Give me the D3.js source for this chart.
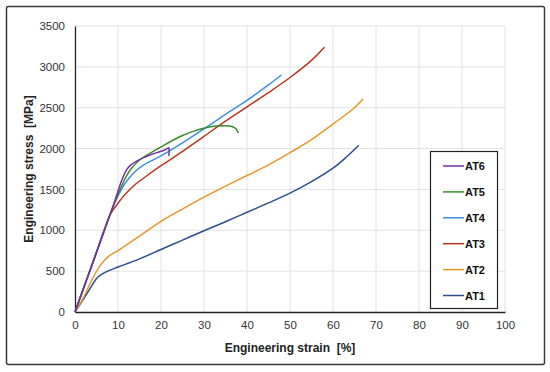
<!DOCTYPE html>
<html lang="en">
<head>
<meta charset="UTF-8" />
<title>index</title>
<script src="https://d3js.org/d3.v7.min.js"></script>
<style>
  body { margin: 0; background: #fff; }
  text { font-family: "Liberation Sans", Arial, sans-serif; }
</style>
</head>
<body>
<div id="my_dataviz"></div>
<script>
// tick labels
var xTicks = [0, 10, 20, 30, 40, 50, 60, 70, 80, 90, 100];
var yTicks = [0, 500, 1000, 1500, 2000, 2500, 3000, 3500];

// series names (legend order, top to bottom) and colours
var seriesNames = ["AT6", "AT5", "AT4", "AT3", "AT2", "AT1"];
var seriesColors = ["#7030a0", "#3a8a2a", "#3d8fe0", "#b8361e", "#e3962e", "#2c4f8c"];

// strain [%] / stress [MPa]
var at1Strain = [0, 2, 4, 5, 6, 7, 8, 10, 15, 20, 25, 30, 35, 40, 45, 50, 55, 60, 63, 66];
var at1Stress = [0, 160, 330, 410, 455, 485, 510, 550, 650, 765, 880, 995, 1105, 1220, 1335, 1455, 1595, 1760, 1890, 2040];

var at2Strain = [0, 2, 4, 6, 8, 10, 15, 20, 25, 30, 35, 40, 45, 50, 55, 60, 65, 67];
var at2Stress = [0, 180, 400, 580, 690, 750, 930, 1110, 1260, 1405, 1540, 1670, 1800, 1950, 2110, 2300, 2500, 2610];

var at3Strain = [0, 4, 8, 9, 10, 11, 12, 14, 16, 20, 25, 30, 35, 40, 45, 50, 55, 58];
var at3Stress = [0, 580, 1170, 1260, 1330, 1400, 1460, 1560, 1640, 1790, 1965, 2150, 2335, 2510, 2685, 2870, 3080, 3240];

var at4Strain = [0, 5, 9, 10, 11, 12, 14, 16, 20, 25, 30, 35, 40, 45, 48];
var at4Stress = [0, 730, 1310, 1420, 1520, 1600, 1720, 1800, 1910, 2070, 2240, 2420, 2590, 2780, 2900];

var at5Strain = [0, 9, 10, 11, 12, 13, 15, 18, 20, 22, 25, 28, 30, 33, 35, 36.5, 37.5, 38];
var at5Stress = [0, 1310, 1440, 1560, 1670, 1750, 1860, 1960, 2020, 2080, 2160, 2220, 2250, 2275, 2280, 2270, 2240, 2190];

var at6Strain = [0, 9, 10, 11, 12, 13, 15, 17, 19, 21, 21.8, 21.9, 21.8];
var at6Stress = [0, 1320, 1480, 1630, 1740, 1800, 1865, 1910, 1950, 1985, 2010, 1980, 1910];

var strains = [at6Strain, at5Strain, at4Strain, at3Strain, at2Strain, at1Strain];
var stresses = [at6Stress, at5Stress, at4Stress, at3Stress, at2Stress, at1Stress];

var W = 550, H = 372;
var margin = {top: 26, right: 45, bottom: 60, left: 75},
    width = W - margin.left - margin.right,
    height = H - margin.top - margin.bottom;

var svg = d3.select("#my_dataviz")
  .append("svg")
    .attr("width", W)
    .attr("height", H);

// outer frame
svg.append("rect")
  .attr("x", 6.5).attr("y", 6.5)
  .attr("width", 538).attr("height", 358)
  .attr("rx", 2)
  .attr("fill", "none")
  .attr("stroke", "#3a3a3a")
  .attr("stroke-width", 1.5);

var g = svg.append("g")
  .attr("transform", "translate(" + margin.left + "," + margin.top + ")");

var x = d3.scaleLinear().domain([0, 100]).range([0, width]);
var y = d3.scaleLinear().domain([0, 3500]).range([height, 0]);

// grid
g.append("g")
  .selectAll("line")
  .data(xTicks.slice(1))
  .enter().append("line")
    .attr("x1", function(d) { return x(d); })
    .attr("x2", function(d) { return x(d); })
    .attr("y1", 0).attr("y2", height)
    .attr("stroke", "#e2e2e2").attr("stroke-width", 1);
g.append("g")
  .selectAll("line")
  .data(yTicks.slice(1))
  .enter().append("line")
    .attr("y1", function(d) { return y(d); })
    .attr("y2", function(d) { return y(d); })
    .attr("x1", 0).attr("x2", width)
    .attr("stroke", "#e2e2e2").attr("stroke-width", 1);

// axes
var fmt = d3.format("d");
var xAxis = g.append("g")
  .attr("transform", "translate(0," + height + ")")
  .call(d3.axisBottom(x).tickValues(xTicks).tickFormat(fmt).tickSize(0).tickPadding(9));
var yAxis = g.append("g")
  .call(d3.axisLeft(y).tickValues(yTicks).tickFormat(fmt).tickSize(0).tickPadding(10));
[xAxis, yAxis].forEach(function(a) {
  a.select(".domain").attr("stroke", "#222").attr("stroke-width", 1.3);
  a.selectAll("text")
    .attr("fill", "#333")
    .style("font-size", "11.5px")
    .style("font-family", "'Liberation Sans', Arial, sans-serif");
});

// axis titles
svg.append("text")
  .attr("x", margin.left + width / 2)
  .attr("y", 352)
  .attr("text-anchor", "middle")
  .style("font-size", "12px")
  .style("font-weight", "bold")
  .attr("fill", "#222")
  .text("Engineering strain\u00a0 [%]");
svg.append("text")
  .attr("transform", "translate(33," + (margin.top + height / 2) + ") rotate(-90)")
  .attr("text-anchor", "middle")
  .style("font-size", "12px")
  .style("font-weight", "bold")
  .attr("fill", "#222")
  .text("Engineering stress\u00a0 [MPa]");

// curves
var line = d3.line()
  .x(function(d) { return x(d[0]); })
  .y(function(d) { return y(d[1]); })
  .curve(d3.curveCatmullRom.alpha(0.5));

// draw AT1 first so AT6 sits on top
for (var i = seriesNames.length - 1; i >= 0; i--) {
  var pts = d3.zip(strains[i], stresses[i]);
  g.append("path")
    .datum(pts)
    .attr("fill", "none")
    .attr("stroke", seriesColors[i])
    .attr("stroke-width", 1.5)
    .attr("d", line);
}

// legend
var legend = svg.append("g");
legend.append("rect")
  .attr("x", 430.5).attr("y", 151.5)
  .attr("width", 67).attr("height", 157)
  .attr("fill", "#fff")
  .attr("stroke", "#222")
  .attr("stroke-width", 1.2);
var items = legend.selectAll("g")
  .data(seriesNames)
  .enter().append("g")
    .attr("transform", function(d, i) { return "translate(0," + (166 + i * 25.9) + ")"; });
items.append("line")
  .attr("x1", 443).attr("x2", 464)
  .attr("y1", 0).attr("y2", 0)
  .attr("stroke", function(d, i) { return seriesColors[i]; })
  .attr("stroke-width", 1.5);
items.append("text")
  .attr("x", 465).attr("y", 4)
  .style("font-size", "11px")
  .style("font-weight", "bold")
  .attr("fill", "#111")
  .text(function(d) { return d; });
</script>
</body>
</html>
